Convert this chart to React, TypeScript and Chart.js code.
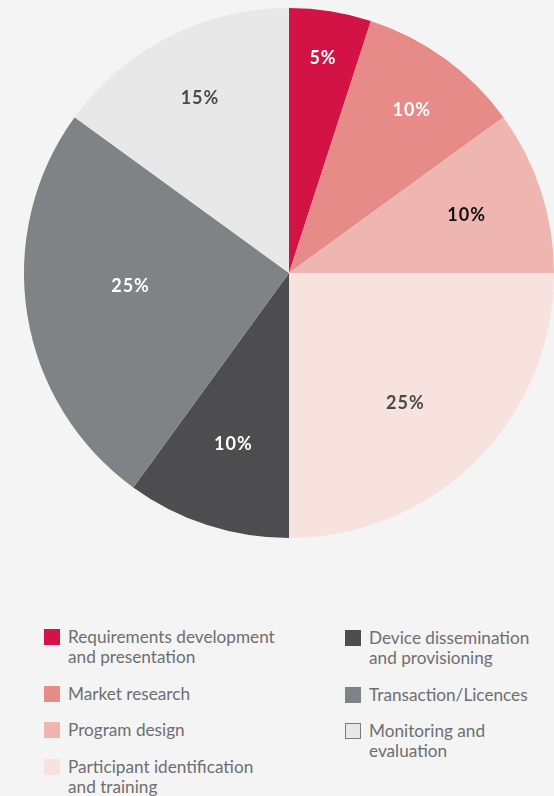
import React, { useEffect, useRef } from "react";
import { Chart, registerables } from "chart.js";

Chart.register(...registerables);

const categories: string[][] = [
  ["Requirements development", "and presentation"],
  ["Market research"],
  ["Program design"],
  ["Participant identification", "and training"],
  ["Device dissemination", "and provisioning"],
  ["Transaction/Licences"],
  ["Monitoring and", "evaluation"],
];
const shares: number[] = [5, 10, 10, 25, 10, 25, 15];
const sliceColors: string[] = ["#d31245", "#e68b87", "#efb6b1", "#f7e2de", "#4d4d50", "#818285", "#e8e8e8"];
const labelColors: string[] = ["#ffffff", "#ffffff", "#111111", "#4a4a4d", "#ffffff", "#ffffff", "#4a4a4d"];
const labelRadius: number[] = [0.82, 0.77, 0.705, 0.66, 0.68, 0.6, 0.74];
const labelAngleShift: number[] = [0, 1, 0, 3.3, 0, 4.3, 0];

const leftItems = [0, 1, 2, 3];
const rightItems = [4, 5, 6];

const labelPlugin = {
  id: "sliceLabels",
  afterDatasetsDraw(chart: any) {
    const ctx = chart.ctx;
    const meta = chart.getDatasetMeta(0);
    ctx.save();
    ctx.font = "bold 18px Lato";
    (ctx as any).letterSpacing = "1px";
    ctx.textAlign = "center";
    ctx.textBaseline = "middle";
    meta.data.forEach((arc: any, i: number) => {
      const p = arc.getProps(["x", "y", "startAngle", "endAngle", "outerRadius"], true);
      const mid = (p.startAngle + p.endAngle) / 2 + (labelAngleShift[i] * Math.PI) / 180;
      const r = p.outerRadius * labelRadius[i];
      ctx.fillStyle = labelColors[i];
      ctx.fillText(shares[i] + "%", p.x + Math.cos(mid) * r, p.y + Math.sin(mid) * r);
    });
    ctx.restore();
  },
};

function LegendItem({ i }: { i: number }) {
  const isLast = i === 6;
  return (
    <div style={{ display: "flex", alignItems: "flex-start" }}>
      <div
        style={{
          width: isLast ? 14 : 16,
          height: isLast ? 14 : 16,
          marginTop: 2,
          marginRight: 8,
          background: sliceColors[i],
          border: isLast ? "1px solid #7a7a7d" : "none",
          flexShrink: 0,
        }}
      />
      <div style={{ lineHeight: "20px" }}>
        {categories[i].map((l, k) => (
          <div key={k}>{l}</div>
        ))}
      </div>
    </div>
  );
}

export default function App() {
  const ref = useRef<HTMLCanvasElement>(null);
  useEffect(() => {
    document.body.style.margin = "0";
    const chart = new Chart(ref.current!, {
      type: "pie",
      data: {
        labels: categories,
        datasets: [
          {
            data: shares,
            backgroundColor: sliceColors,
            borderWidth: 0,
          },
        ],
      },
      options: {
        animation: false,
        responsive: false,
        layout: { padding: { left: 24, top: 8, bottom: 8, right: 0 } },
        plugins: { legend: { display: false }, tooltip: { enabled: false } },
      },
      plugins: [labelPlugin],
    });
    return () => chart.destroy();
  }, []);

  const colStyle: React.CSSProperties = {
    position: "absolute",
    display: "flex",
    flexDirection: "column",
    gap: 16.5,
    fontFamily: "Lato",
    fontSize: 17.2,
    color: "#6e6e71",
  };

  return (
    <div style={{ position: "absolute", left: 0, top: 0, width: 554, height: 796, background: "#f4f4f4", overflow: "hidden" }}>
      <canvas ref={ref} width={554} height={546} style={{ display: "block" }} />
      <div style={{ ...colStyle, left: 44, top: 627 }}>
        {leftItems.map((i) => (
          <LegendItem key={i} i={i} />
        ))}
      </div>
      <div style={{ ...colStyle, left: 345, top: 628 }}>
        {rightItems.map((i) => (
          <LegendItem key={i} i={i} />
        ))}
      </div>
    </div>
  );
}
